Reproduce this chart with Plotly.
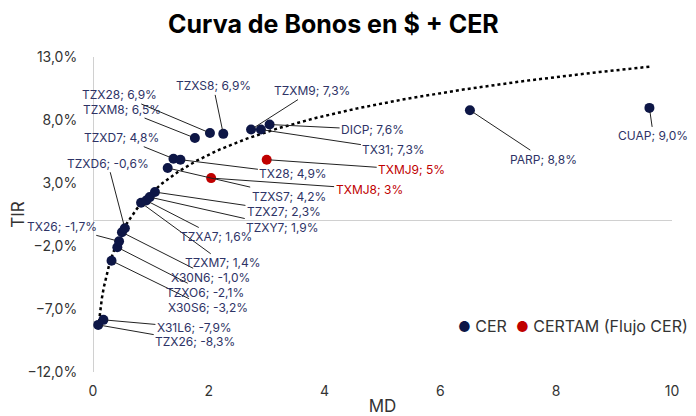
import numpy as np
import plotly.graph_objects as go

# bonos CER: (duration modificada, TIR %)
cer_names = ["TZX26", "X31L6", "X30S6", "TZXO6", "TX26", "X30N6", "TZXD6",
             "TZXM7", "TZXA7", "TZXY7", "TZX27", "TZXS7", "TZXD7", "TX28",
             "TZXM8", "TZX28", "TZXS8", "TZXM9", "TX31", "DICP", "PARP", "CUAP"]
cer_md = [0.09, 0.18, 0.32, 0.42, 0.45, 0.50, 0.55,
          0.83, 0.92, 0.98, 1.07, 1.29, 1.39, 1.51,
          1.76, 2.02, 2.25, 2.73, 2.90, 3.05, 6.51, 9.61]
cer_tir = [-8.3, -7.9, -3.2, -2.1, -1.7, -1.0, -0.6,
           1.4, 1.6, 1.9, 2.3, 4.2, 4.8, 4.9,
           6.5, 6.9, 6.9, 7.3, 7.3, 7.6, 8.8, 9.0]
cer_text = ["-8,3%", "-7,9%", "-3,2%", "-2,1%", "-1,7%", "-1,0%", "-0,6%",
            "1,4%", "1,6%", "1,9%", "2,3%", "4,2%", "4,8%", "4,9%",
            "6,5%", "6,9%", "6,9%", "7,3%", "7,3%", "7,6%", "8,8%", "9,0%"]
# y posicion visual de cada punto (algunos no coinciden con la etiqueta)
cer_tir_plot = [-8.26, -7.86, -3.17, -2.1, -1.63, -0.91, -0.59,
                1.43, 1.61, 1.88, 2.28, 4.19, 4.93, 4.85,
                6.57, 6.97, 6.9, 7.24, 7.24, 7.64, 8.78, 8.96]

tam_names = ["TXMJ8", "TXMJ9"]
tam_md = [2.04, 3.0]
tam_tir = [3.39, 4.85]
tam_text = ["3%", "5%"]

NAVY = "#0d1646"
LABEL = "#2e3366"
RED = "#c00000"

# offsets de etiquetas (pixeles, texto respecto al punto)
cer_off = [(97, 17), (91, 8), (96, 47), (88, 45), (-57, -15), (89, 45), (-17, -65),
           (82, 60), (70, 36), (133, 30), (129, 19), (121, 28), (-52, -21), (113, 14),
           (-73, -29), (-90, -38), (-10, -48), (61, -39), (133, 20), (103, 5), (74, 49), (4, 28)]
tam_off = [(158, 11), (145, 10)]

fig = go.Figure()

# linea de tendencia logaritmica ajustada sobre los bonos CER
a, b = np.polyfit(np.log(cer_md), cer_tir, 1)
xs = np.linspace(min(cer_md), max(cer_md), 300)
fig.add_trace(go.Scatter(x=xs, y=a * np.log(xs) + b, mode="lines",
                         line=dict(color="black", width=2.5, dash="dot"),
                         showlegend=False, hoverinfo="skip"))

fig.add_trace(go.Scatter(x=cer_md, y=cer_tir_plot, mode="markers", name="CER",
                         marker=dict(color=NAVY, size=10), showlegend=False))
fig.add_trace(go.Scatter(x=tam_md, y=tam_tir, mode="markers", name="CERTAM (Flujo CER)",
                         marker=dict(color=RED, size=10), showlegend=False))

for n, x, y, t, (ax, ay) in zip(cer_names, cer_md, cer_tir_plot, cer_text, cer_off):
    fig.add_annotation(x=x, y=y, text=f"{n}; {t}", ax=ax, ay=ay,
                       showarrow=True, arrowhead=0, arrowwidth=1, arrowcolor="#222222",
                       standoff=4, font=dict(family="Inter", size=12, color=LABEL))
for n, x, y, t, (ax, ay) in zip(tam_names, tam_md, tam_tir, tam_text, tam_off):
    fig.add_annotation(x=x, y=y, text=f"{n}; {t}", ax=ax, ay=ay,
                       showarrow=True, arrowhead=0, arrowwidth=1, arrowcolor="#222222",
                       standoff=4, font=dict(family="Inter", size=12, color=RED))

# leyenda compacta (como en el original)
fig.add_annotation(xref="paper", yref="paper", x=1.031, y=0.146, xanchor="right", yanchor="middle",
                   showarrow=False, font=dict(family="Inter", size=16, color="#333333"),
                   text=f"<span style='color:{NAVY};font-size:14px'>●</span> CER  "
                        f"<span style='color:{RED};font-size:14px'>●</span> CERTAM (Flujo CER)")

# la pagina html tiene 8px de margen, se descuenta del tamaño
fig.update_layout(
    width=688, height=408,
    margin=dict(l=85, r=24, t=49, b=44),
    paper_bgcolor="white", plot_bgcolor="white",
    separators=",.",
    font=dict(family="Inter", size=14, color="#333333"),
    title=dict(text="<b>Curva de Bonos en $ + CER</b>", x=0.473, xanchor="center",
               y=0.96, yanchor="middle",
               font=dict(family="Inter", size=25, color="black")),
    showlegend=False,
)
fig.update_xaxes(range=[0, 10], tick0=0, dtick=2, showgrid=False, automargin=False,
                 zeroline=True, zerolinecolor="#d0d0d0", zerolinewidth=1,
                 showline=False, ticks="outside", ticklen=6, tickcolor="rgba(0,0,0,0)",
                 title=dict(text="MD", standoff=14))
fig.update_yaxes(range=[-12, 13], tick0=-12, dtick=5, showgrid=False, automargin=False,
                 zeroline=True, zerolinecolor="#d0d0d0", zerolinewidth=1,
                 showline=False, ticks="outside", ticklen=12, tickcolor="rgba(0,0,0,0)",
                 tickformat=".1f", ticksuffix="%",
                 title=dict(text="TIR", standoff=4))

fig.write_html("out.html")
